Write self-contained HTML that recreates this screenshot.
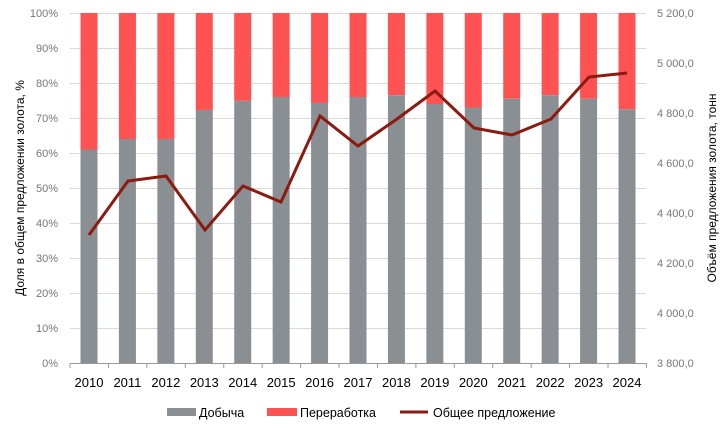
<!DOCTYPE html><html><head><meta charset="utf-8"><style>body{margin:0;background:#fff}svg{display:block;font-family:"Liberation Sans",sans-serif}</style></head><body>
<svg width="725" height="434" viewBox="0 0 725 434">
<g stroke="#d9d9d9" stroke-width="1">
<line x1="70" x2="646" y1="13.5" y2="13.5"/><line x1="70" x2="646" y1="48.5" y2="48.5"/><line x1="70" x2="646" y1="83.5" y2="83.5"/><line x1="70" x2="646" y1="118.5" y2="118.5"/><line x1="70" x2="646" y1="153.5" y2="153.5"/><line x1="70" x2="646" y1="188.5" y2="188.5"/><line x1="70" x2="646" y1="223.5" y2="223.5"/><line x1="70" x2="646" y1="258.5" y2="258.5"/><line x1="70" x2="646" y1="293.5" y2="293.5"/><line x1="70" x2="646" y1="328.5" y2="328.5"/>
</g>
<g id="bars"></g>
<line x1="70" x2="646" y1="363.5" y2="363.5" stroke="#999"/>
<g id="ticks" stroke="#999"></g>
<polyline fill="none" stroke="#8b1a10" stroke-width="3" stroke-linejoin="miter" points="89,235 128,181 166,176 205,230 243,186 281,202 320,116 358,146 397,119 435,91 474,128 512,135 551,119 589,77 627,73"/>
<g font-size="11" fill="#777" text-anchor="end" id="ly"></g>
<g font-size="11" fill="#777" id="ry"></g>
<g font-size="13" fill="#000" text-anchor="middle" id="xl"></g>
<text transform="translate(24,188) rotate(-90)" font-size="12" text-anchor="middle" fill="#000">Доля в общем предложении золота, %</text>
<text transform="translate(716,188) rotate(-90)" font-size="12" text-anchor="middle" fill="#000">Объём предложения золота, тонн</text>
<rect x="167" y="408" width="29" height="8" fill="#8a8f93"/><text x="199" y="417" font-size="12.5">Добыча</text>
<rect x="267" y="408" width="30" height="8" fill="#ff5252"/><text x="300" y="417" font-size="12.5">Переработка</text>
<rect x="400" y="410.5" width="28" height="3" fill="#8b1a10"/><text x="433" y="417" font-size="12.5">Общее предложение</text>
</svg>
<script>
var ns="http://www.w3.org/2000/svg";function el(p,t,a,tx){var e=document.createElementNS(ns,t);for(var k in a)e.setAttribute(k,a[k]);if(tx)e.textContent=tx;document.getElementById(p).appendChild(e);}
var g=[61,64,64,72.3,74.9,76,74.3,76,76.5,74,73,75.5,76.5,75.5,72.5];
for(var i=0;i<15;i++){var cx=89+i*38.43,x=cx-8.5,gy=363-g[i]*3.5;
el("bars","rect",{x:x,y:13,width:17,height:gy-13,fill:"#ff5252"});
el("bars","rect",{x:x,y:gy,width:17,height:363-gy,fill:"#8a8f93"});
el("xl","text",{x:cx,y:387},""+(2010+i));}
for(i=0;i<=15;i++){var tx=70+i*38.43;el("ticks","line",{x1:tx,x2:tx,y1:363,y2:368});}
for(i=0;i<=10;i++){el("ly","text",{x:58,y:363-i*35+4},(i*10)+"%");}
var rl=["3 800,0","4 000,0","4 200,0","4 400,0","4 600,0","4 800,0","5 000,0","5 200,0"];
for(i=0;i<8;i++){el("ry","text",{x:657,y:363-i*50+4},rl[i]);}
</script>
</body></html>
